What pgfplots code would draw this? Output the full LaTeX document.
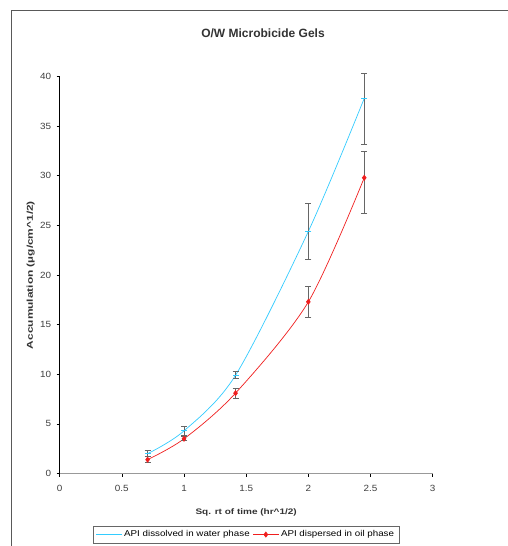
\documentclass[border=0pt]{standalone}
\usepackage{fontspec}
\setmainfont{Liberation Sans}
\usepackage{pgfplots}
\pgfplotsset{compat=1.18}
\definecolor{water}{RGB}{51,204,255}
\definecolor{oil}{RGB}{240,30,30}
\begin{document}
\begin{tikzpicture}[x=1pt,y=1pt]
\useasboundingbox (0,0) rectangle (507,546);
\fill[white] (0,0) rectangle (507,546);
\draw[black!65, line width=1pt] (11,-5) -- (11,535) -- (512,535);
\node[font=\bfseries\fontsize{12}{14}\selectfont, text=black!80] at (263,513) {O/W Microbicide Gels};
\begin{axis}[
  at={(48,73)}, anchor=origin,
  scale only axis, width=373pt, height=397pt,
  xmin=0, xmax=3, ymin=0, ymax=40,
  axis x line*=bottom, axis y line*=left,
  x axis line style={black!40, line width=0.8pt},
  y axis line style={black, line width=0.8pt},
  xtick={0,0.5,1,1.5,2,2.5,3},
  ytick={0,5,10,15,20,25,30,35,40},
  tick align=outside, major tick length=3pt,
  tick style={black, line width=0.6pt},
  ticklabel style={font=\fontsize{9}{10}\selectfont, text=black!75},
  xticklabel style={yshift=-5pt},
  yticklabel style={xshift=-2pt},
  xticklabel={\scalebox{1.1}[1]{\pgfmathprintnumber{\tick}}},
  yticklabel={\scalebox{1.1}[1]{\pgfmathprintnumber{\tick}}},
  /pgf/number format/assume math mode=true,
  xlabel={\scalebox{1.25}[1]{Sq. rt of time (hr\textasciicircum 1/2)}},
  ylabel={\scalebox{1.4}[1]{Accumulation (µg/cm\textasciicircum 1/2)}},
  xlabel style={at={(axis description cs:0.5,-0.098)}, anchor=center, font=\bfseries\fontsize{8}{9}\selectfont, text=black!80},
  ylabel style={at={(axis description cs:-0.078,0.5)}, anchor=center, font=\bfseries\fontsize{8.5}{10}\selectfont, text=black!80},
  clip=false,
  legend style={at={(0.0885,-0.131)}, anchor=north west, legend columns=2,
    draw=black!60, font=\fontsize{8.5}{10}\selectfont, inner ysep=3pt,
    /tikz/every even column/.append style={column sep=1pt}},
  legend image code/.code={
    \draw[mark repeat=2,mark phase=2] plot coordinates {(0cm,0cm) (0.45cm,0cm) (0.9cm,0cm)};},
  error bars/y dir=both, error bars/y explicit,
  error bars/error bar style={black!60, line width=0.8pt},
  error bars/error mark options={rotate=90, mark size=3pt, black!60, line width=0.8pt},
]
\addplot[water, line width=0.7pt, smooth, mark=-, mark size=3pt, mark options={line width=1.2pt}]
coordinates {
  (0.7071,2.0) +- (0,0.3)
  (1,4.3) +- (0,0.45)
  (1.4142,9.9) +- (0,0.35)
  (2,24.4) +- (0,2.8)
  (2.4495,37.8) += (0,2.5) -= (0,4.6)
};
\addlegendentry{\scalebox{1.15}[1]{API dissolved in water phase}}
\addplot[oil, line width=0.7pt, smooth, mark=diamond*, mark size=2.5pt]
coordinates {
  (0.7071,1.4) +- (0,0.3)
  (1,3.5) +- (0,0.2)
  (1.4142,8.1) +- (0,0.5)
  (2,17.3) +- (0,1.6)
  (2.4495,29.8) += (0,2.7) -= (0,3.6)
};
\addlegendentry{\scalebox{1.15}[1]{API dispersed in oil phase}}
\end{axis}
\end{tikzpicture}
\end{document}
